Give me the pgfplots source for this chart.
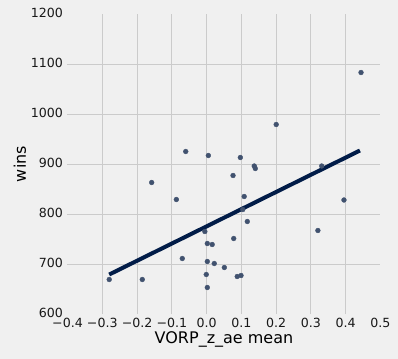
\documentclass[border=0pt]{standalone}
\usepackage{pgfplots}
\pgfplotsset{compat=1.18}
\usepackage{fontspec}
\setmainfont{DejaVu Sans}
\definecolor{bgc}{HTML}{F0F0F0}
\definecolor{gridc}{HTML}{CBCBCB}
\definecolor{ptc}{HTML}{41526F}
\definecolor{linec}{HTML}{011C48}
\begin{document}
\begin{tikzpicture}
\fill[bgc] (-67.5bp,-45bp) rectangle (330.5bp,314bp);
\begin{axis}[
  at={(0,0)}, anchor=south west,
  scale only axis, width=313bp, height=300bp,
  xmin=-0.4, xmax=0.5, ymin=600, ymax=1200,
  axis line style={draw=none},
  tick style={draw=none},
  xtick={-0.4,-0.3,-0.2,-0.1,0,0.1,0.2,0.3,0.4,0.5},
  xticklabels={−0.4,−0.3,−0.2,−0.1,0.0,0.1,0.2,0.3,0.4,0.5},
  ytick={600,700,800,900,1000,1100,1200},
  yticklabels={600,700,800,900,1000,1100,1200},
  minor xtick={-0.3,-0.2,-0.1,0,0.1,0.2,0.3,0.4},
  minor ytick={700,800,900,1000,1100},
  grid=minor,
  minor grid style={gridc, line width=1bp},
  ticklabel style={font=\fontsize{12.6bp}{15bp}\selectfont, text=black!90},
  xticklabel style={yshift=-1bp},
  yticklabel style={xshift=-1bp, yshift=1bp},
  xlabel={VORP\_z\_ae mean},
  ylabel={wins},
  label style={font=\fontsize{16bp}{19bp}\selectfont},
  xlabel style={yshift=3bp},
  ylabel style={yshift=-2bp},
  clip=false,
]
\addplot[only marks, mark=*, mark size=2.4bp, color=ptc] coordinates {
(-0.06,925) (0.444,1083) (0.2,979) (0.005,917) (0.097,913) (0.137,896)
(0.14,891) (0.076,877) (0.331,896) (-0.158,863) (-0.087,829) (-0.070,711)
(-0.280,669) (-0.185,669) (0.108,835) (0.104,809) (0.117,785) (0.395,828)
(0.320,767) (-0.005,765) (0.002,741) (0.016,739) (0.078,751) (0.002,705)
(0.022,701) (0.051,693) (-0.001,679) (0.088,675) (0.099,677) (0.002,653)
};
\addplot[linec, line width=4bp] coordinates {(-0.28,679) (0.441,927)};
\end{axis}
\end{tikzpicture}
\end{document}
